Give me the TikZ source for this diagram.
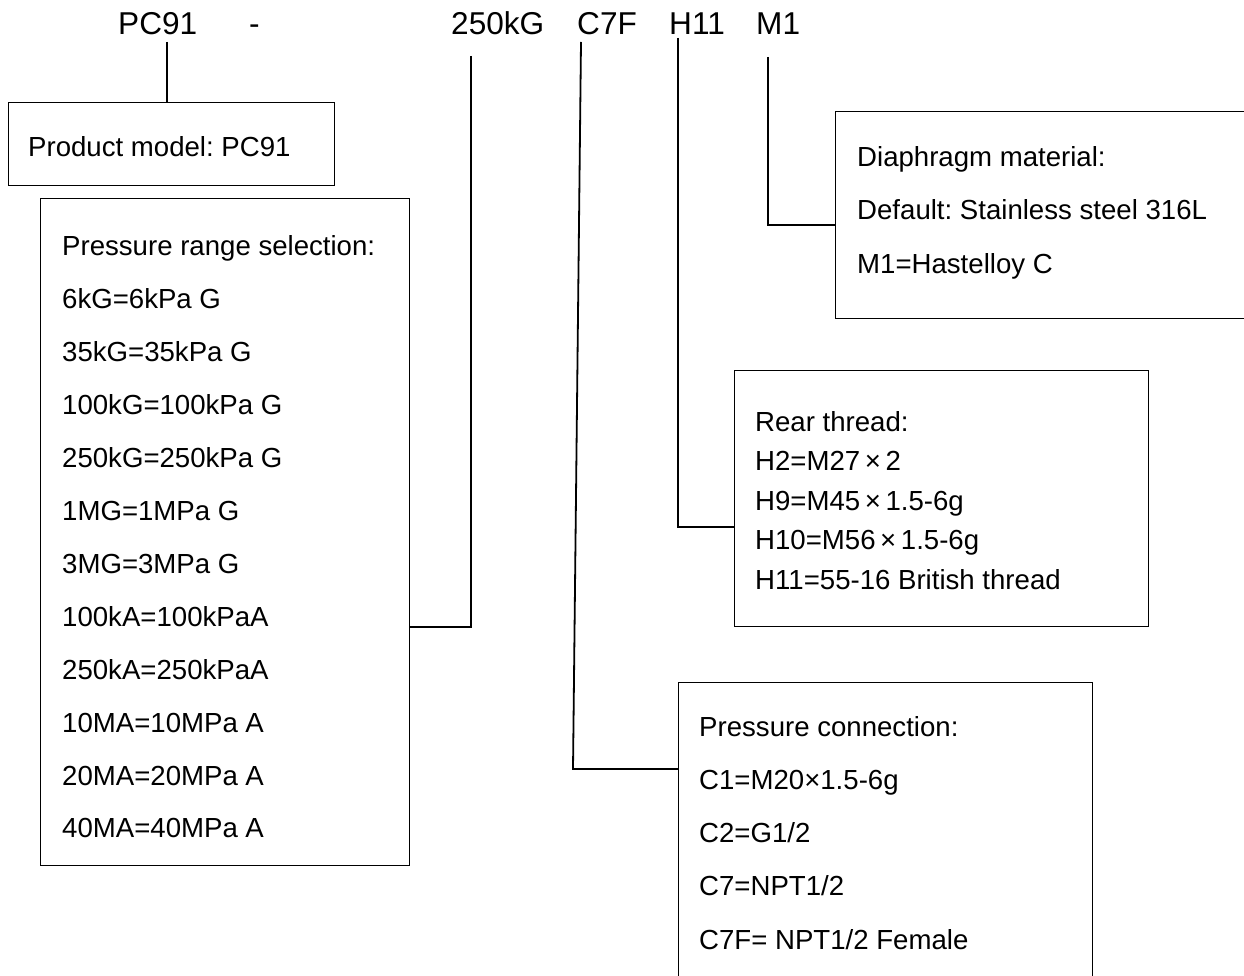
\documentclass[tikz,border=0pt]{standalone}
\usepackage{fontspec}
\setmainfont{Liberation Sans}
\frenchspacing
\begin{document}
\frenchspacing
\begin{tikzpicture}[x=1pt,y=-1pt,
  box/.style={draw,line width=1.3pt,inner sep=0pt,anchor=north west},
  link/.style={line width=1.8pt},
  thinlink/.style={line width=1.3pt},
  thicklink/.style={line width=2.6pt},
  lbl/.style={anchor=base west,inner sep=0pt,font=\fontsize{27.6}{30}\selectfont},
  toplbl/.style={anchor=base west,inner sep=0pt,font=\fontsize{31.6}{34}\selectfont}]
\useasboundingbox (0,0) rectangle (1244,976);
\clip (0,0) rectangle (1244,976);
% top code
\node[toplbl] (pc) at (118,35) {PC91};
\node[toplbl] (dash) at (249,35) {-};
\node[toplbl] (rng) at (451,35) {250kG};
\node[toplbl] (cf) at (577,35) {C7F};
\node[toplbl] (hh) at (669,35) {H11};
\node[toplbl] (mm) at (756,35) {M1};
% boxes
\node[box,minimum width=326pt,minimum height=83pt] (prod) at (8,102) {};
\node[box,minimum width=369pt,minimum height=667pt] (range) at (40,198) {};
\node[box,minimum width=430pt,minimum height=207pt] (diaph) at (835,111) {};
\node[box,minimum width=414pt,minimum height=256pt] (rear) at (734,370) {};
\node[box,minimum width=414pt,minimum height=320pt] (conn) at (678,682) {};
% texts
\node[lbl] (p0) at (28,157) {Product model: PC91};
\foreach \t [count=\i from 0] in {Pressure range selection:,6kG=6kPa G,35kG=35kPa G,100kG=100kPa G,250kG=250kPa G,1MG=1MPa G,3MG=3MPa G,100kA=100kPaA,250kA=250kPaA,10MA=10MPa A,20MA=20MPa A,40MA=40MPa A}
  \node[lbl] (r\i) at (62,256+52.9*\i) {\t};
\foreach \t [count=\i from 0] in {Diaphragm material:,Default: Stainless steel 316L,M1=Hastelloy C}
  \node[lbl] (d\i) at (857,167+53*\i) {\t};
\foreach \t [count=\i from 0] in {Rear thread:,H2=M27\,×\,2,H9=M45\,×\,1.5-6g,H10=M56\,×\,1.5-6g,H11=55-16 British thread}
  \node[lbl] (h\i) at (755,431+39.5*\i) {\t};
\foreach \t [count=\i from 0] in {Pressure connection:,C1=M20×1.5-6g,C2=G1/2,C7=NPT1/2,C7F= NPT1/2 Female}
  \node[lbl] (c\i) at (699,736+53.3*\i) {\t};
% connectors
\coordinate (t1) at (167,42);
\draw[thinlink] (t1) -- (t1 |- prod.north);
\coordinate (t2) at (471,56);
\coordinate (t2b) at (471,627);
\draw[thicklink] (t2) -- (t2b) -- (t2b -| range.east);
\coordinate (t3) at (581,42);
\coordinate (t3b) at (573,769);
\draw[link] (t3) -- (t3b) -- (t3b -| conn.west);
\coordinate (t4) at (678,38);
\coordinate (t4b) at (678,527);
\draw[link] (t4) -- (t4b) -- (t4b -| rear.west);
\coordinate (t5) at (768,57);
\coordinate (t5b) at (768,225);
\draw[link] (t5) -- (t5b) -- (t5b -| diaph.west);
\end{tikzpicture}
\end{document}
